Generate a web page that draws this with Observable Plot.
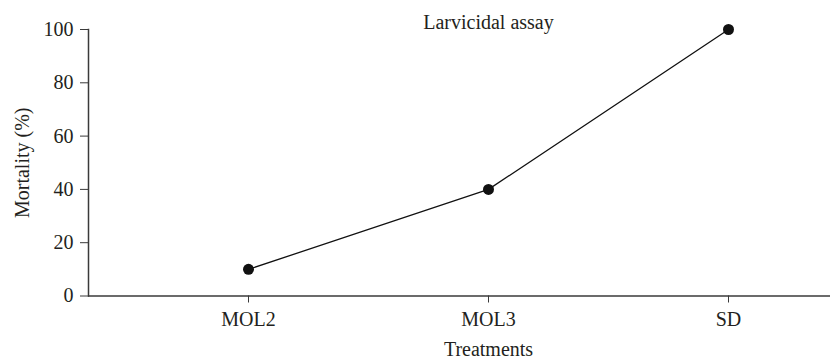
<!DOCTYPE html>
<html>
<head>
<meta charset="utf-8">
<script src="https://cdn.jsdelivr.net/npm/d3@7"></script>
<script src="https://cdn.jsdelivr.net/npm/@observablehq/plot@0.6"></script>
<style>
  html, body { margin: 0; padding: 0; background: #fff; overflow: hidden; }
  #chart { width: 830px; height: 359px; overflow: hidden; }
  #chart svg { display: block; max-width: none !important; width: 890px !important; height: 359px !important; }
</style>
</head>
<body>
<div id="chart"></div>
<script>
const treatments = ["MOL2", "MOL3", "SD"];
const mortality = [10, 40, 100];
const yTicks = [0, 20, 40, 60, 80, 100];
const title = "Larvicidal assay";
const xLabel = "Treatments";
const yLabel = "Mortality (%)";

const data = treatments.map((t, i) => ({treatment: t, mortality: mortality[i]}));

const font = "'Liberation Serif', 'Times New Roman', serif";
const ink = "#231f20";

const chart = Plot.plot({
  width: 890,
  height: 359,
  marginLeft: 88,
  marginRight: 2,
  marginTop: 29,
  marginBottom: 63.5,
  style: {fontFamily: font, fontSize: "20px", color: ink, background: "#fff"},
  x: {type: "point", domain: treatments, padding: 2 / 3, label: null},
  y: {domain: [0, 100], label: null},
  marks: [
    Plot.frame({anchor: "left", stroke: "#3a3a3a", strokeWidth: 1.5}),
    Plot.ruleY([0], {stroke: "#3a3a3a", strokeWidth: 1.5}),
    Plot.axisY({ticks: yTicks, tickSize: 8, tickPadding: 7, stroke: "#3a3a3a", fill: ink, fontSize: 20, label: null}),
    Plot.axisX({tickSize: 7, tickPadding: 9, stroke: "#3a3a3a", fill: ink, fontSize: 20, label: null}),
    Plot.line(data, {x: "treatment", y: "mortality", stroke: "#111", strokeWidth: 1.3}),
    Plot.dot(data, {x: "treatment", y: "mortality", r: 5.5, fill: "#111", stroke: "none"}),
    Plot.text([title], {frameAnchor: "top", lineAnchor: "bottom", dy: -1, fill: ink, fontSize: 20}),
    Plot.text([xLabel], {frameAnchor: "bottom", lineAnchor: "bottom", dy: 60, fill: ink, fontSize: 20}),
    Plot.text([yLabel], {frameAnchor: "left", rotate: -90, textAnchor: "middle", lineAnchor: "middle", dx: -66, fill: ink, fontSize: 20})
  ]
});
document.getElementById("chart").appendChild(chart);
</script>
</body>
</html>
